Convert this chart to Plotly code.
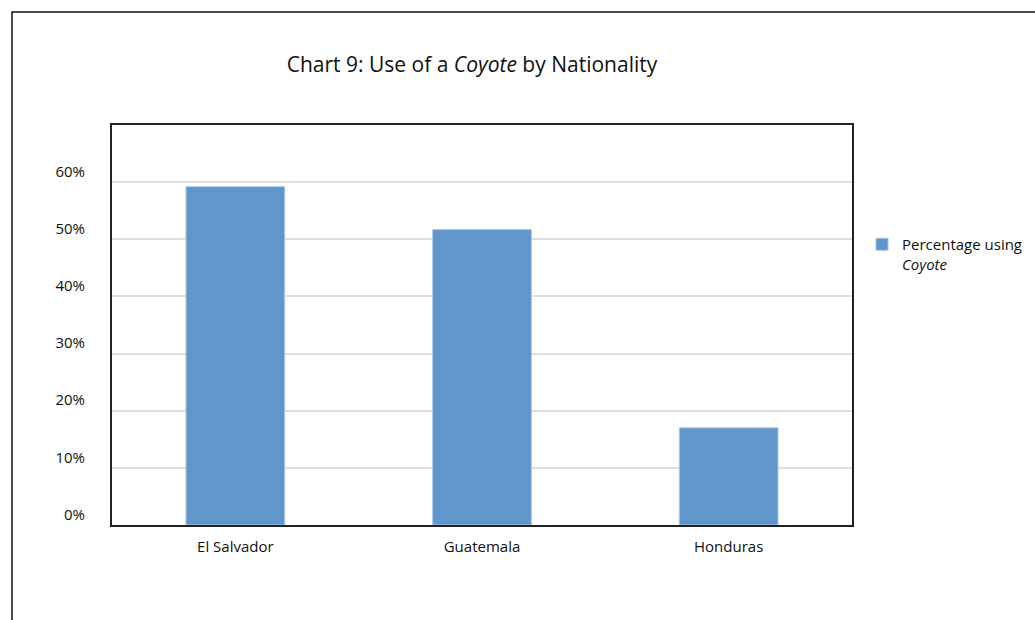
import plotly.graph_objects as go

countries = ["El Salvador", "Guatemala", "Honduras"]
pct_coyote = [0.592, 0.517, 0.17]
y_ticks = [0, 0.1, 0.2, 0.3, 0.4, 0.5, 0.6]
y_tick_labels = ["0%", "10%", "20%", "30%", "40%", "50%", "60%"]

W, H = 1035, 620
L, R, T, B = 112, 183, 125, 95
pw, ph = W - L - R, H - T - B

fig = go.Figure()
fig.add_trace(go.Bar(
    x=countries, y=pct_coyote,
    name="Percentage using<br><i>Coyote</i>",
    marker=dict(color="#6096c9", line=dict(color="#a8c6e8", width=1)),
    width=0.4,
))

font = "Open Sans, Noto Sans, sans-serif"
fig.update_layout(
    width=W, height=H,
    margin=dict(l=L, r=R, t=T, b=B, autoexpand=False),
    paper_bgcolor="white", plot_bgcolor="white",
    font=dict(family=font, size=15, color="#111"),
    title=dict(text="Chart 9: Use of a <i>Coyote</i> by Nationality",
               x=472 / W, xanchor="center", y=1 - 65 / H, yanchor="middle",
               font=dict(size=21, color="#111")),
    showlegend=True,
    legend=dict(x=(862 - L) / pw, xanchor="left", y=(H - B - 228) / ph, yanchor="top",
                valign="top", font=dict(size=15), itemwidth=30,
                bgcolor="rgba(0,0,0,0)", tracegroupgap=0),
    xaxis=dict(showline=True, linecolor="#222", linewidth=2, mirror=True,
               ticks="", tickfont=dict(size=15), showgrid=False, ticklabelstandoff=7),
    yaxis=dict(range=[0, 0.70], tickvals=y_ticks, ticktext=y_tick_labels,
               showline=True, linecolor="#222", linewidth=2, mirror=True,
               showgrid=True, gridcolor="#dedede", gridwidth=2,
               ticks="", ticklabelstandoff=22, ticklabelposition="outside top",
               tickfont=dict(size=15), zeroline=False),
    shapes=[dict(type="rect", xref="paper", yref="paper",
                 x0=(12 - L) / pw, x1=3, y0=-2, y1=(H - B - 12) / ph,
                 line=dict(color="#111", width=1.5), fillcolor="rgba(0,0,0,0)", layer="below")],
)

fig.write_html("out.html")
